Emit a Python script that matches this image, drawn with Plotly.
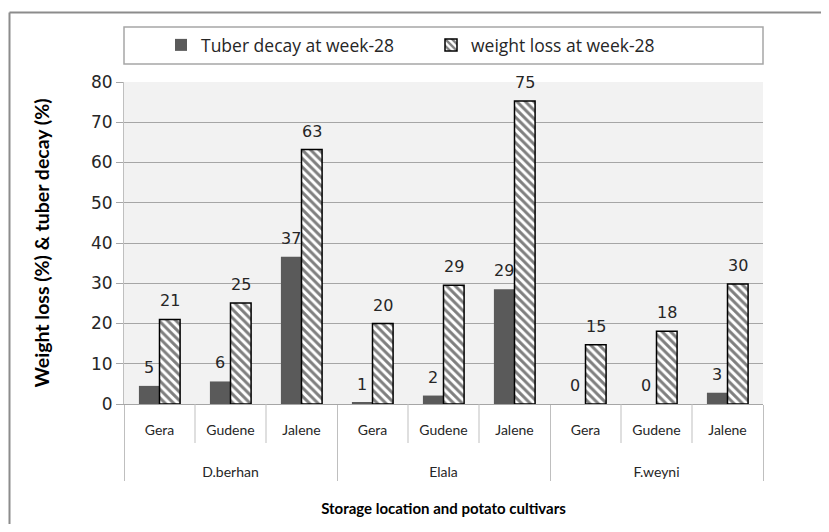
import plotly.graph_objects as go

# Dados
locais = ["D.berhan", "D.berhan", "D.berhan", "Elala", "Elala", "Elala", "F.weyni", "F.weyni", "F.weyni"]
cultivares = ["Gera", "Gudene", "Jalene", "Gera", "Gudene", "Jalene", "Gera", "Gudene", "Jalene"]
tuber_decay = [4.5, 5.6, 36.6, 0.3, 2.1, 28.5, 0, 0, 2.8]
tuber_labels = ["5", "6", "37", "1", "2", "29", "0", "0", "3"]
weight_loss = [21.0, 25.1, 63.2, 20.0, 29.5, 75.3, 14.7, 18.1, 29.8]
weight_labels = ["21", "25", "63", "20", "29", "75", "15", "18", "30"]

COR_GRID = "#a6a6a6"
COR_DIV = "#bfbfbf"
FONTE_NUM = "DejaVu Sans"
FONTE_TXT = "Lato"
BARGAP = 0.42

# Linhas vazias antes do nome do local para afastar a segunda linha de rótulos
x_multi = [["<br><br>" + l for l in locais], cultivares]

fig = go.Figure()
fig.add_trace(
    go.Bar(
        x=x_multi,
        y=tuber_decay,
        name="Tuber decay at week-28",
        marker=dict(color="#5a5a5a", line=dict(width=0)),
    )
)
fig.add_trace(
    go.Bar(
        x=x_multi,
        y=weight_loss,
        name="weight loss at week-28",
        marker=dict(
            color="white",
            line=dict(color="black", width=1.5),
            pattern=dict(shape="\\", fgcolor="black", bgcolor="white", size=6, solidity=0.5),
        ),
    )
)

# Rótulos de valor acima das barras
meia = (1 - BARGAP) / 4
anotacoes = []
for i in range(len(cultivares)):
    for desloc, y, txt in [(-meia, tuber_decay[i], tuber_labels[i]), (meia, weight_loss[i], weight_labels[i])]:
        anotacoes.append(
            dict(
                x=i + desloc, y=y, xref="x", yref="y", text=txt, showarrow=False,
                yanchor="bottom", yshift=7, font=dict(family=FONTE_NUM, size=16, color="#262626"),
            )
        )

# Divisores curtos entre cultivares + caixa da legenda + moldura externa (só topo e esquerda)
formas = []
for k in [1, 2, 4, 5, 7, 8]:
    formas.append(
        dict(type="line", xref="x domain", yref="paper", x0=k / 9, x1=k / 9, y0=0, y1=-39 / 322,
             line=dict(color=COR_DIV, width=1))
    )
formas.append(
    dict(type="rect", xref="paper", yref="paper", x0=0, x1=1, y0=1 + 18 / 322, y1=1 + 55 / 322,
         line=dict(color=COR_GRID, width=1.5), fillcolor="rgba(0,0,0,0)")
)
topo = 1 + 69.5 / 322
esq = -114.5 / 639
formas.append(dict(type="line", xref="paper", yref="paper", x0=esq, x1=1.3, y0=topo, y1=topo,
                   line=dict(color="#8c8c8c", width=2)))
formas.append(dict(type="line", xref="paper", yref="paper", x0=esq, x1=esq, y0=topo, y1=-0.6,
                   line=dict(color="#8c8c8c", width=2)))

fig.update_layout(
    width=813,
    height=516,
    margin=dict(l=116, r=58, t=74, b=120, autoexpand=False),
    paper_bgcolor="white",
    plot_bgcolor="#f2f2f2",
    barmode="group",
    bargap=BARGAP,
    bargroupgap=0,
    showlegend=True,
    legend=dict(
        orientation="h",
        x=37 / 639,
        xanchor="left",
        y=1 + 37 / 322,
        yanchor="middle",
        entrywidth=225,
        font=dict(family="Open Sans", size=17.5, color="#262626"),
        bgcolor="rgba(0,0,0,0)",
    ),
    annotations=anotacoes,
    shapes=formas,
)

fig.update_yaxes(
    range=[0, 80],
    dtick=10,
    showgrid=True,
    gridcolor=COR_GRID,
    gridwidth=1,
    zeroline=False,
    showline=True,
    linecolor=COR_DIV,
    ticks="outside",
    ticklen=7,
    tickcolor=COR_GRID,
    tickfont=dict(family=FONTE_NUM, size=17, color="#262626"),
    automargin=False,
    title=dict(
        text="<b>Weight loss (%) & tuber decay (%)</b>",
        font=dict(family=FONTE_TXT, size=19.5, color="black"),
        standoff=36,
    ),
)

fig.update_xaxes(
    type="multicategory",
    automargin=False,
    showline=True,
    linecolor=COR_GRID,
    showgrid=False,
    showdividers=True,
    dividercolor=COR_DIV,
    dividerwidth=1,
    ticks="",
    ticklabelstandoff=13,
    tickfont=dict(family=FONTE_TXT, size=14, color="#262626"),
    title=dict(
        text="<b>Storage location and potato cultivars</b>",
        font=dict(family=FONTE_TXT, size=15, color="black"),
        standoff=24,
    ),
)

fig.write_html("out.html")
